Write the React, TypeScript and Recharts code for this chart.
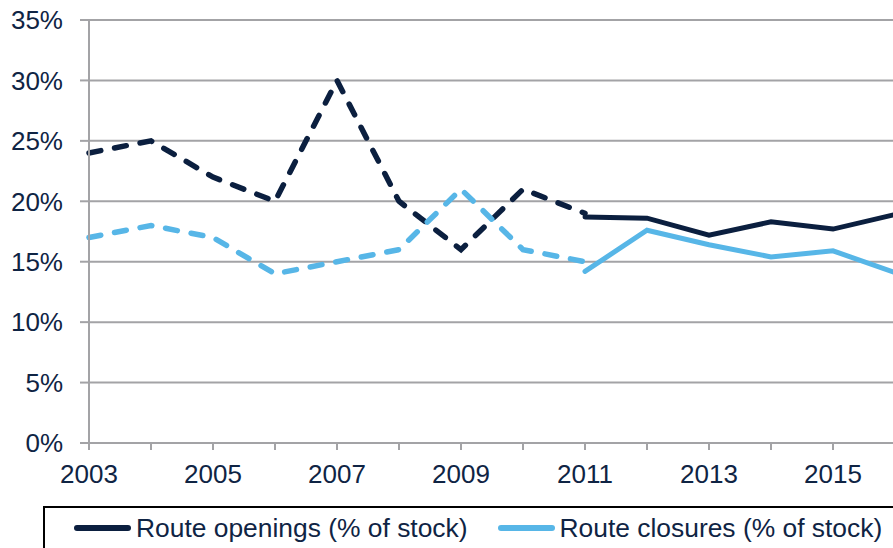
import React from 'react';
import { LineChart, Line, XAxis, YAxis, CartesianGrid, Legend } from 'recharts';

const years = [2003, 2004, 2005, 2006, 2007, 2008, 2009, 2010, 2011, 2012, 2013, 2014, 2015, 2016];
const openingsEstimated = [24, 25, 22, 20, 30, 20, 16, 21, 19, null, null, null, null, null];
const closuresEstimated = [17, 18, 17, 14, 15, 16, 21, 16, 15, null, null, null, null, null];
const openingsActual = [null, null, null, null, null, null, null, null, 18.7, 18.6, 17.2, 18.3, 17.7, 18.9];
const closuresActual = [null, null, null, null, null, null, null, null, 14.2, 17.6, 16.4, 15.4, 15.9, 14.1];
const yTicks = [0, 5, 10, 15, 20, 25, 30, 35];
const legendLabels = ['Route openings (% of stock)', 'Route closures (% of stock)'];

const DARK = '#0b1f3f';
const LIGHT = '#57b6e7';
const GRID = '#a3a3a6';
const TEXT = '#0f2444';
const FONT = 'Liberation Sans, Arial, sans-serif';

const data = years.map((y, i) => ({
  year: y,
  openEst: openingsEstimated[i],
  closeEst: closuresEstimated[i],
  openAct: openingsActual[i],
  closeAct: closuresActual[i],
}));

const LegendBox = () => (
  <div
    style={{
      boxSizing: 'border-box',
      width: 880,
      height: 50,
      border: '2px solid #000',
      display: 'flex',
      alignItems: 'flex-start',
      paddingLeft: 29,
      paddingTop: 3,
      fontFamily: FONT,
      fontSize: 26.4,
      color: TEXT,
      background: '#fff',
    }}
  >
    {[DARK, LIGHT].map((c, i) => (
      <div key={i} style={{ display: 'flex', alignItems: 'center', marginRight: 30 }}>
        <svg width={57} height={10} style={{ marginRight: 5 }}>
          <line x1={3} y1={5} x2={54} y2={5} stroke={c} strokeWidth={6} strokeLinecap="round" />
        </svg>
        <span style={{ lineHeight: '34px' }}>{legendLabels[i]}</span>
      </div>
    ))}
  </div>
);

export default function App() {
  return (
    <div style={{ position: 'fixed', left: 0, top: 0, width: 893, height: 548, overflow: 'hidden', background: '#fff' }}>
      <LineChart width={900} height={548} data={data} margin={{ top: 20, right: 5, bottom: 0, left: 0 }}>
        <CartesianGrid vertical={false} stroke={GRID} strokeWidth={2} />
        <XAxis
          dataKey="year"
          type="number"
          domain={[2003, 2016]}
          ticks={years}
          interval={0}
          tickFormatter={(v: number) => (v % 2 === 1 ? String(v) : '')}
          axisLine={{ stroke: GRID, strokeWidth: 2 }}
          tickLine={{ stroke: GRID, strokeWidth: 2 }}
          tickSize={7}
          tickMargin={15}
          height={55}
          tick={{ fill: TEXT, fontSize: 26, fontFamily: FONT }}
        />
        <YAxis
          domain={[0, 35]}
          ticks={yTicks}
          interval={0}
          tickFormatter={(v: number) => `${v}%`}
          axisLine={{ stroke: GRID, strokeWidth: 2 }}
          tickLine={{ stroke: GRID, strokeWidth: 2 }}
          tickSize={9}
          tickMargin={17}
          width={89}
          tick={{ fill: TEXT, fontSize: 26, fontFamily: FONT }}
        />
        <Legend
          verticalAlign="bottom"
          align="left"
          content={() => <LegendBox />}
          wrapperStyle={{ left: 43, top: 506, width: 880, height: 50 }}
        />
        <Line dataKey="openEst" stroke={DARK} strokeWidth={5.5} strokeDasharray="12 14" strokeLinecap="round" dot={false} isAnimationActive={false} connectNulls={false} legendType="none" />
        <Line dataKey="closeEst" stroke={LIGHT} strokeWidth={5.5} strokeDasharray="12 14" strokeLinecap="round" dot={false} isAnimationActive={false} connectNulls={false} legendType="none" />
        <Line dataKey="openAct" stroke={DARK} strokeWidth={5} strokeLinecap="round" dot={false} isAnimationActive={false} connectNulls={false} legendType="none" />
        <Line dataKey="closeAct" stroke={LIGHT} strokeWidth={5} strokeLinecap="round" dot={false} isAnimationActive={false} connectNulls={false} legendType="none" />
      </LineChart>
    </div>
  );
}
